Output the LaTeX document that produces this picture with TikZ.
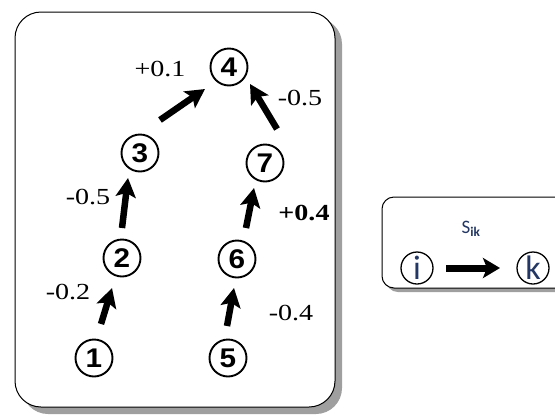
\documentclass[tikz,border=0pt]{standalone}
\usepackage{fontspec}
\setmainfont{Liberation Serif}
\newfontfamily\labelfont[FakeStretch=1.22]{Liberation Serif}
\newfontfamily\digitfont[FakeStretch=1.1]{Liberation Sans}
\newfontfamily\calfont{Carlito}
\usetikzlibrary{arrows.meta}
\definecolor{legendblue}{RGB}{35,55,100}
\begin{document}
\begin{tikzpicture}[x=1pt,y=-1pt,
  vtx/.style={circle,draw,line width=1.9pt,minimum size=37pt,inner sep=0pt,font=\digitfont\bfseries\fontsize{27}{27}\selectfont},
  smallvtx/.style={circle,draw,line width=1.3pt,minimum size=32pt,inner sep=0pt,text=legendblue,font=\calfont\fontsize{34}{34}\selectfont},
  wlabel/.style={font=\labelfont\fontsize{23}{23}\selectfont,inner sep=0pt},
  thick arrow/.style={line width=6.5pt,-{Stealth[length=19pt,width=20pt,inset=4pt]}},
  panel/.style={draw,line width=1pt,rounded corners=26pt,fill=white},
  shadow/.style={fill=gray!75,rounded corners=26pt}]
\useasboundingbox (0,0) rectangle (555,416);
% main panel
\fill[shadow] (22,18) rectangle (342,414);
\draw[panel] (15,12) rectangle (335,407);
% right panel
\fill[shadow,rounded corners=12pt] (386,201) rectangle (600,292);
\draw[panel,rounded corners=12pt] (382,197) rectangle (595,288);
% nodes
\node[vtx] (n4) at (229,67) {4};
\node[vtx] (n3) at (140,153) {3};
\node[vtx] (n7) at (265,163) {7};
\node[vtx] (n2) at (122,258) {2};
\node[vtx] (n6) at (237,259) {6};
\node[vtx] (n1) at (94,358) {1};
\node[vtx] (n5) at (228,358) {5};
% edge anchors
\coordinate (a34) at (160,120); \coordinate (b34) at (205,89);
\coordinate (a74) at (277,129); \coordinate (b74) at (250,84);
\coordinate (a23) at (122,228); \coordinate (b23) at (128,178);
\coordinate (a67) at (246,228); \coordinate (b67) at (254,188);
\coordinate (a12) at (101,324); \coordinate (b12) at (112,288);
\coordinate (a56) at (227,326); \coordinate (b56) at (234,288);
\draw[thick arrow] (a34) -- (b34);
\draw[thick arrow] (a74) -- (b74);
\draw[thick arrow] (a23) -- (b23);
\draw[thick arrow] (a67) -- (b67);
\draw[thick arrow] (a12) -- (b12);
\draw[thick arrow] (a56) -- (b56);
% labels
\node[wlabel] (l1) at (160,69) {+0.1};
\node[wlabel] (l2) at (300,98) {-0.5};
\node[wlabel] (l3) at (88,197) {-0.5};
\node[wlabel,font=\labelfont\bfseries\fontsize{23}{23}\selectfont] (l4) at (304,213) {+0.4};
\node[wlabel] (l5) at (68,292) {-0.2};
\node[wlabel] (l6) at (291,313) {-0.4};
% legend
\node[smallvtx] (ni) at (417,268) {i};
\node[smallvtx] (nk) at (533,268) {k};
\coordinate (aik) at (446,268); \coordinate (bik) at (500,268);
\draw[line width=7pt,-{Stealth[length=17pt,width=20pt,inset=4pt]}] (aik) -- (bik);
\node[inner sep=0pt,text=legendblue,font=\calfont\fontsize{19}{19}\selectfont] (sik) at (471,229) {S\textsubscript{\textbf{ik}}};
\end{tikzpicture}
\end{document}
